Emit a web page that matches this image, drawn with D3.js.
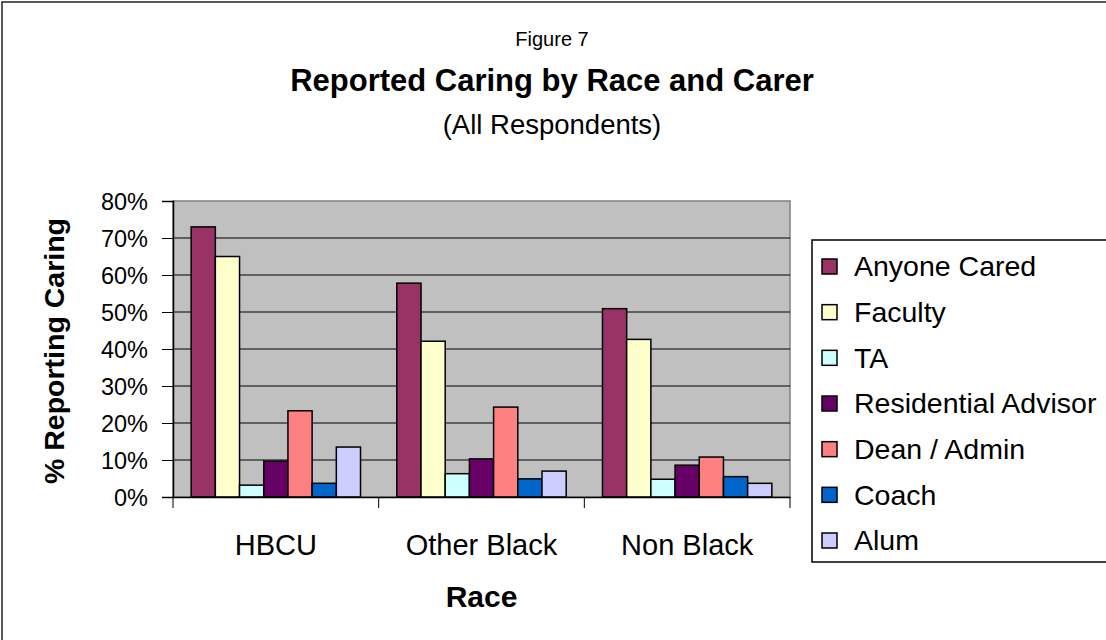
<!DOCTYPE html>
<html>
<head>
<meta charset="utf-8">
<script src="https://cdn.jsdelivr.net/npm/d3@7"></script>
<style>
  html, body { margin: 0; padding: 0; background: #fff; }
  svg { display: block; font-family: "Liberation Sans", Arial, sans-serif; }
</style>
</head>
<body>
<div id="chart"></div>
<script>
// data (percent)
const categories = ["HBCU", "Other Black", "Non Black"];
const seriesNames = ["Anyone Cared", "Faculty", "TA", "Residential Advisor", "Dean / Admin", "Coach", "Alum"];
const anyoneCared = [73.0, 57.8, 50.9];
const faculty = [65.0, 42.1, 42.6];
const ta = [3.2, 6.3, 4.8];
const residentialAdvisor = [9.7, 10.3, 8.6];
const deanAdmin = [23.3, 24.3, 10.8];
const coach = [3.7, 4.9, 5.5];
const alum = [13.5, 7.0, 3.7];
const yTicks = [0, 10, 20, 30, 40, 50, 60, 70, 80];

const seriesValues = [anyoneCared, faculty, ta, residentialAdvisor, deanAdmin, coach, alum];
const colors = ["#993366", "#FFFFCC", "#CCFFFF", "#660066", "#FF8080", "#0066CC", "#CCCCFF"];

const W = 1106, H = 640;
const plot = { left: 173, right: 790, top: 201, bottom: 497 };

const svg = d3.select("#chart").append("svg")
  .attr("width", W)
  .attr("height", H);

// outer chart border (cropped at right/bottom in the original)
svg.append("rect")
  .attr("x", 2).attr("y", 2)
  .attr("width", W + 10).attr("height", H + 10)
  .attr("fill", "#fff")
  .attr("stroke", "#222")
  .attr("stroke-width", 1.5);

// titles
svg.append("text")
  .attr("x", 552).attr("y", 46)
  .attr("text-anchor", "middle")
  .style("font-size", "20px")
  .text("Figure 7");
svg.append("text")
  .attr("x", 552).attr("y", 91)
  .attr("text-anchor", "middle")
  .style("font-size", "31px")
  .style("font-weight", "bold")
  .text("Reported Caring by Race and Carer");
svg.append("text")
  .attr("x", 552).attr("y", 134)
  .attr("text-anchor", "middle")
  .style("font-size", "27.5px")
  .text("(All Respondents)");

// scales
const x0 = d3.scaleBand()
  .domain(categories)
  .range([plot.left, plot.right])
  .paddingInner(0)
  .paddingOuter(0);

const barW = x0.bandwidth() / 8.5; // Excel gap width 150%
const x1 = d3.scaleBand()
  .domain(seriesNames)
  .range([0, barW * 7]);

const y = d3.scaleLinear()
  .domain([0, 80])
  .range([plot.bottom, plot.top]);

// plot area
svg.append("rect")
  .attr("x", plot.left).attr("y", plot.top)
  .attr("width", plot.right - plot.left)
  .attr("height", plot.bottom - plot.top)
  .attr("fill", "#C0C0C0")
  .attr("stroke", "#808080")
  .attr("stroke-width", 1.5);

// gridlines
svg.append("g")
  .selectAll("line")
  .data(yTicks.filter(d => d > 0 && d < 80))
  .enter()
  .append("line")
  .attr("x1", plot.left).attr("x2", plot.right)
  .attr("y1", d => y(d)).attr("y2", d => y(d))
  .attr("stroke", "#000")
  .attr("stroke-width", 1);

// bars
const groups = svg.append("g")
  .selectAll("g")
  .data(categories)
  .enter()
  .append("g")
  .attr("transform", d => "translate(" + (x0(d) + barW * 0.75) + ",0)");

groups.selectAll("rect")
  .data((c, ci) => seriesNames.map((s, si) => ({ s: s, si: si, v: seriesValues[si][ci] })))
  .enter()
  .append("rect")
  .attr("x", d => x1(d.s))
  .attr("y", d => y(d.v))
  .attr("width", x1.bandwidth())
  .attr("height", d => y(0) - y(d.v))
  .attr("fill", d => colors[d.si])
  .attr("stroke", "#000")
  .attr("stroke-width", 1.5);

// y axis
const yAxis = svg.append("g")
  .attr("transform", "translate(" + plot.left + ",0)")
  .call(d3.axisLeft(y).tickValues(yTicks).tickSize(11).tickPadding(14).tickFormat(d => d + "%"));
yAxis.select(".domain").attr("stroke", "#000").attr("stroke-width", 1.5);
yAxis.selectAll(".tick line").attr("stroke", "#000");
yAxis.selectAll("text")
  .style("font-size", "23.5px")
  .style("font-family", "Liberation Sans, Arial, sans-serif")
  .attr("fill", "#000")
  .attr("dy", "0.36em");

// x axis
const xAxis = svg.append("g")
  .attr("transform", "translate(0," + plot.bottom + ")")
  .call(d3.axisBottom(x0).tickSize(0).tickPadding(37));
xAxis.select(".domain").attr("stroke", "#000").attr("stroke-width", 1.5);
xAxis.selectAll("text")
  .style("font-size", "29px")
  .style("font-family", "Liberation Sans, Arial, sans-serif")
  .attr("fill", "#000");

// category boundary ticks
svg.append("g")
  .selectAll("line")
  .data(categories.map(c => x0(c)).concat([plot.right]))
  .enter()
  .append("line")
  .attr("x1", d => d).attr("x2", d => d)
  .attr("y1", plot.bottom).attr("y2", plot.bottom + 11)
  .attr("stroke", "#000")
  .attr("stroke-width", 1);

// axis titles
svg.append("text")
  .attr("x", (plot.left + plot.right) / 2).attr("y", 607)
  .attr("text-anchor", "middle")
  .style("font-size", "30px")
  .style("font-weight", "bold")
  .text("Race");
svg.append("text")
  .attr("transform", "translate(64," + ((plot.top + plot.bottom) / 2 + 2) + ") rotate(-90)")
  .attr("text-anchor", "middle")
  .style("font-size", "28.5px")
  .style("font-weight", "bold")
  .text("% Reporting Caring");

// legend
const legend = svg.append("g");
legend.append("rect")
  .attr("x", 812).attr("y", 240)
  .attr("width", 320).attr("height", 322)
  .attr("fill", "#fff")
  .attr("stroke", "#000")
  .attr("stroke-width", 1.5);

const rowY = d3.scalePoint()
  .domain(seriesNames)
  .range([266, 540]);

const items = legend.selectAll("g.item")
  .data(seriesNames)
  .enter()
  .append("g")
  .attr("class", "item")
  .attr("transform", d => "translate(822," + rowY(d) + ")");
items.append("rect")
  .attr("x", 0).attr("y", -7)
  .attr("width", 15).attr("height", 15)
  .attr("fill", (d, i) => colors[i])
  .attr("stroke", "#000")
  .attr("stroke-width", 1.5);
items.append("text")
  .attr("x", 32).attr("y", 0)
  .attr("dy", "0.36em")
  .style("font-size", "28.5px")
  .text(d => d);
</script>
</body>
</html>
